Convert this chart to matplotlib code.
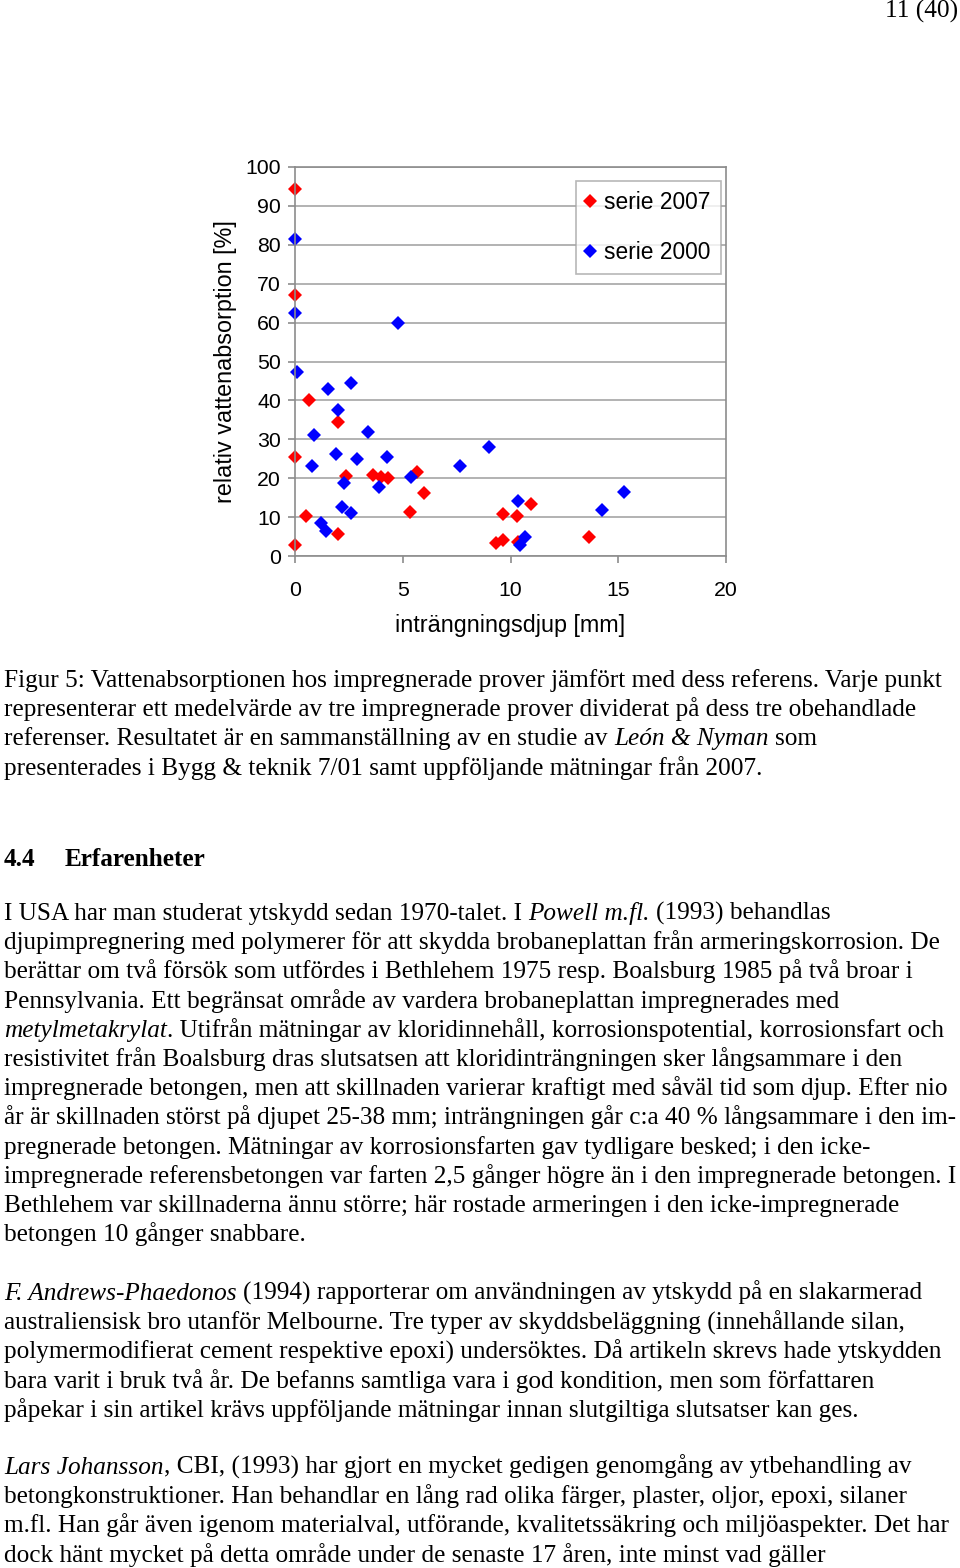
import matplotlib
matplotlib.use("Agg")
from matplotlib import pyplot as plt

W, H = 960, 1568

# serie 2007 (red) and serie 2000 (blue)
x_2007 = [0, 0, 0.66, 2.0, 0, 2.35, 3.63, 4.01, 4.32, 5.66, 5.97, 5.32, 0.51,
          2.0, 0, 10.96, 9.65, 10.31, 13.64, 9.31, 9.65, 10.37]
y_2007 = [94.3, 67.0, 40.1, 34.4, 25.4, 20.6, 20.8, 20.4, 20.0, 21.7, 16.1, 11.2,
          10.3, 5.7, 2.8, 13.3, 10.8, 10.4, 4.8, 3.3, 4.1, 3.7]
x_2000 = [0, 0, 4.78, 0.11, 1.51, 2.58, 2.0, 0.88, 3.39, 1.9, 2.89, 4.27, 0.8,
          7.67, 2.28, 3.89, 5.40, 2.19, 2.59, 1.19, 1.42, 8.98, 10.37, 14.26,
          15.26, 10.68, 10.46]
y_2000 = [81.4, 62.4, 59.8, 47.4, 42.9, 44.4, 37.5, 31.1, 31.9, 26.2, 24.9, 25.4,
          23.1, 23.1, 18.8, 17.8, 20.4, 12.5, 11.0, 8.4, 6.3, 28.1, 14.2, 11.7,
          16.5, 4.8, 2.8]

x_ticks = [0, 5, 10, 15, 20]
y_ticks = [0, 10, 20, 30, 40, 50, 60, 70, 80, 90, 100]

# page text: each line is a list of (text, italic) pieces
caption = [
    [("Figur 5: Vattenabsorptionen hos impregnerade prover jämfört med dess referens. Varje punkt", False)],
    [("representerar ett medelvärde av tre impregnerade prover dividerat på dess tre obehandlade", False)],
    [("referenser. Resultatet är en sammanställning av en studie av ", False), ("León & Nyman", True), (" som", False)],
    [("presenterades i Bygg & teknik 7/01 samt uppföljande mätningar från 2007.", False)],
]
para1 = [
    [("I USA har man studerat ytskydd sedan 1970-talet. I ", False), ("Powell m.fl.", True), (" (1993) behandlas", False)],
    [("djupimpregnering med polymerer för att skydda brobaneplattan från armeringskorrosion. De", False)],
    [("berättar om två försök som utfördes i Bethlehem 1975 resp. Boalsburg 1985 på två broar i", False)],
    [("Pennsylvania. Ett begränsat område av vardera brobaneplattan impregnerades med", False)],
    [("metylmetakrylat", True), (". Utifrån mätningar av kloridinnehåll, korrosionspotential, korrosionsfart och", False)],
    [("resistivitet från Boalsburg dras slutsatsen att kloridinträngningen sker långsammare i den", False)],
    [("impregnerade betongen, men att skillnaden varierar kraftigt med såväl tid som djup. Efter nio", False)],
    [("år är skillnaden störst på djupet 25-38 mm; inträngningen går c:a 40 % långsammare i den im-", False)],
    [("pregnerade betongen. Mätningar av korrosionsfarten gav tydligare besked; i den icke-", False)],
    [("impregnerade referensbetongen var farten 2,5 gånger högre än i den impregnerade betongen. I", False)],
    [("Bethlehem var skillnaderna ännu större; här rostade armeringen i den icke-impregnerade", False)],
    [("betongen 10 gånger snabbare.", False)],
]
para2 = [
    [("F. Andrews-Phaedonos", True), (" (1994) rapporterar om användningen av ytskydd på en slakarmerad", False)],
    [("australiensisk bro utanför Melbourne. Tre typer av skyddsbeläggning (innehållande silan,", False)],
    [("polymermodifierat cement respektive epoxi) undersöktes. Då artikeln skrevs hade ytskydden", False)],
    [("bara varit i bruk två år. De befanns samtliga vara i god kondition, men som författaren", False)],
    [("påpekar i sin artikel krävs uppföljande mätningar innan slutgiltiga slutsatser kan ges.", False)],
]
para3 = [
    [("Lars Johansson", True), (", CBI, (1993) har gjort en mycket gedigen genomgång av ytbehandling av", False)],
    [("betongkonstruktioner. Han behandlar en lång rad olika färger, plaster, oljor, epoxi, silaner", False)],
    [("m.fl. Han går även igenom materialval, utförande, kvalitetssäkring och miljöaspekter. Det har", False)],
    [("dock hänt mycket på detta område under de senaste 17 åren, inte minst vad gäller", False)],
]

serif = "Liberation Serif"
sans = "Liberation Sans"
body_size = 18.2
tick_size = 15.3
label_size = 16.8
legend_size = 16.4

fig = plt.figure(figsize=(W / 100, H / 100), dpi=100)
renderer = fig.canvas.get_renderer()


def space_width(italic):
    st = "italic" if italic else "normal"
    a = fig.text(0, 0, "x x", fontsize=body_size, family=serif, style=st)
    b = fig.text(0, 0, "xx", fontsize=body_size, family=serif, style=st)
    w = a.get_window_extent(renderer).width - b.get_window_extent(renderer).width
    a.remove()
    b.remove()
    return w


sp = {False: space_width(False), True: space_width(True)}


def draw_line(pieces, x, y, weight="normal"):
    # y is the baseline in pixels from the top
    for txt, italic in pieces:
        if txt.startswith(" "):
            x += sp[italic]
        core = txt.strip()
        t = fig.text(x / W, 1 - y / H, core, fontsize=body_size, family=serif,
                     style="italic" if italic else "normal", weight=weight,
                     ha="left", va="baseline", color="black")
        x += t.get_window_extent(renderer).width
        if txt.endswith(" "):
            x += sp[italic]


def draw_block(lines, y0, step=29.2):
    for i, pieces in enumerate(lines):
        draw_line(pieces, 4, y0 + i * step)


# page number
fig.text(958 / W, 1 - 18 / H, "11 (40)", fontsize=body_size, family=serif,
         ha="right", va="baseline")

# chart
ax = fig.add_axes([295 / W, 1 - 556 / H, 431 / W, 389 / H])
ax.plot(x_2007, y_2007, linestyle="none", marker="D", markersize=7.5,
        color="#ff0000", markeredgewidth=0, label="serie 2007", clip_on=False)
ax.plot(x_2000, y_2000, linestyle="none", marker="D", markersize=7.5,
        color="#0000ff", markeredgewidth=0, label="serie 2000", clip_on=False)
ax.set_xlim(0, 20)
ax.set_ylim(0, 100)
ax.set_xticks(x_ticks)
ax.set_yticks(y_ticks)
ax.yaxis.grid(True, color="#a6a6a6", linewidth=1.2)
ax.set_axisbelow(True)
for s in ax.spines.values():
    s.set_color("#8c8c8c")
    s.set_linewidth(1.2)
ax.tick_params(axis="both", direction="out", length=5, width=1.2,
               color="#8c8c8c", labelsize=tick_size)
for lab in ax.get_xticklabels() + ax.get_yticklabels():
    lab.set_family(sans)
ax.tick_params(axis="y", pad=5)
ax.tick_params(axis="x", pad=13)
ax.set_xlabel("inträngningsdjup [mm]", fontsize=label_size, family=sans, labelpad=10)
ax.set_ylabel("relativ vattenabsorption [%]", fontsize=label_size, family=sans, labelpad=6)
leg = ax.legend(loc="upper left", bbox_to_anchor=(0.652, 0.964), borderaxespad=0,
                frameon=True, fancybox=False, edgecolor="#a6a6a6",
                prop={"family": sans, "size": legend_size}, handlelength=0.35,
                handletextpad=0.44, labelspacing=1.17, borderpad=0.45,
                markerscale=0.9)
leg.get_frame().set_linewidth(1.2)

# caption
draw_block(caption, 687)

# heading
fig.text(4 / W, 1 - 866 / H, "4.4", fontsize=body_size, family=serif,
         weight="bold", ha="left", va="baseline")
fig.text(65 / W, 1 - 866 / H, "Erfarenheter", fontsize=body_size, family=serif,
         weight="bold", ha="left", va="baseline")

draw_block(para1, 920)
draw_block(para2, 1300)
draw_block(para3, 1474)

fig.savefig("out.png", dpi=100)
